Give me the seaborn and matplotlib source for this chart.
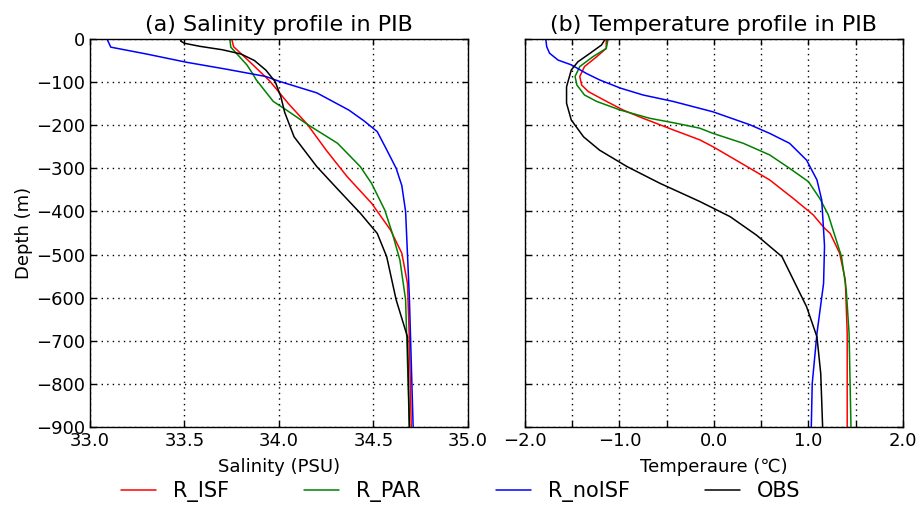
import pandas as pd
import seaborn as sns
import matplotlib.pyplot as plt
import numpy as np

# Runs and their colours
runs = ["R_ISF", "R_PAR", "R_noISF", "OBS"]
colors = ["red", "green", "blue", "black"]

# Salinity profiles (PSU) vs depth (m)
sal_isf = [33.75, 33.76, 33.85, 33.95, 34.05, 34.15, 34.25, 34.36, 34.49, 34.59, 34.65, 34.68, 34.69, 34.70]
dep_sal_isf = [0, -18, -55, -97, -150, -198, -258, -319, -381, -443, -497, -567, -700, -900]

sal_par = [33.74, 33.745, 33.83, 33.86, 33.88, 33.97, 34.04, 34.15, 34.31, 34.43, 34.49, 34.56, 34.60, 34.64, 34.67, 34.68, 34.69]
dep_sal_par = [0, -19, -60, -80, -95, -145, -165, -198, -242, -296, -335, -397, -451, -513, -605, -750, -900]

sal_noisf = [33.09, 33.11, 33.30, 33.51, 33.72, 33.93, 34.00, 34.20, 34.37, 34.45, 34.52, 34.57, 34.62, 34.65, 34.67, 34.68, 34.69, 34.70, 34.71]
dep_sal_noisf = [0, -19, -35, -54, -70, -87, -98, -125, -165, -190, -215, -257, -300, -340, -400, -500, -600, -750, -900]

sal_obs = [33.485, 33.48, 33.50, 33.58, 33.70, 33.80, 33.87, 33.93, 33.98, 34.01, 34.03, 34.08, 34.20, 34.31, 34.43, 34.52, 34.57, 34.62, 34.68, 34.69]
dep_sal_obs = [0, -5, -10, -17, -25, -35, -50, -72, -99, -134, -170, -227, -296, -348, -404, -451, -505, -605, -691, -900]

# Temperature profiles (degC) vs depth (m)
tmp_isf = [-1.14, -1.14, -1.24, -1.37, -1.42, -1.40, -1.33, -1.17, -0.96, -0.75, -0.43, -0.15, -0.01, 0.35, 0.59, 0.84,
           1.05, 1.17, 1.23, 1.33, 1.39, 1.41, 1.41]
dep_tmp_isf = [0, -22, -41, -64, -87, -107, -122, -141, -165, -184, -211, -234, -250, -296, -327, -370,
               -408, -439, -451, -497, -559, -683, -900]

tmp_par = [-1.12, -1.14, -1.28, -1.42, -1.47, -1.45, -1.37, -1.24, -0.99, -0.68, -0.39, -0.15, -0.01, 0.31, 0.59, 0.80,
           1.00, 1.12, 1.21, 1.26, 1.35, 1.40, 1.43, 1.45]
dep_tmp_par = [0, -22, -41, -64, -87, -107, -130, -145, -165, -184, -196, -207, -219, -242, -269, -300,
               -331, -370, -408, -443, -505, -582, -683, -900]

tmp_noisf = [-1.78, -1.77, -1.74, -1.65, -1.51, -1.35, -1.21, -0.99, -0.75, -0.43, -0.15, -0.01, 0.38, 0.59, 0.80, 0.98,
             1.09, 1.14, 1.16, 1.17, 1.16, 1.09, 1.04, 1.03]
dep_tmp_noisf = [0, -18, -33, -49, -60, -80, -95, -114, -130, -145, -161, -169, -199, -219, -242, -281,
                 -327, -373, -443, -480, -567, -683, -799, -900]

tmp_obs = [-1.15, -1.19, -1.31, -1.44, -1.51, -1.56, -1.56, -1.51, -1.38, -1.21, -0.92, -0.57, -0.15, 0.17, 0.45, 0.72,
           0.98, 1.09, 1.13, 1.15]
dep_tmp_obs = [0, -14, -33, -53, -72, -111, -149, -188, -227, -258, -296, -335, -377, -412, -455, -505,
               -621, -691, -776, -900]

sal_vals = [sal_isf, sal_par, sal_noisf, sal_obs]
sal_deps = [dep_sal_isf, dep_sal_par, dep_sal_noisf, dep_sal_obs]
tmp_vals = [tmp_isf, tmp_par, tmp_noisf, tmp_obs]
tmp_deps = [dep_tmp_isf, dep_tmp_par, dep_tmp_noisf, dep_tmp_obs]


def long_frame(vals, deps):
    parts = []
    for run, v, d in zip(runs, vals, deps):
        parts.append(pd.DataFrame({"value": v, "depth": d, "run": run}))
    return pd.concat(parts, ignore_index=True)


df_sal = long_frame(sal_vals, sal_deps)
df_tmp = long_frame(tmp_vals, tmp_deps)

sns.set_style("white")
plt.rcParams["font.family"] = ["DejaVu Sans"]
plt.rcParams.update({
    "xtick.direction": "in", "ytick.direction": "in",
    "xtick.top": True, "ytick.right": True,
    "xtick.bottom": True, "ytick.left": True,
    "xtick.major.size": 4, "ytick.major.size": 4,
    "axes.edgecolor": "black", "axes.linewidth": 1.0,
    "xtick.color": "black", "ytick.color": "black",
    "text.color": "black", "axes.labelcolor": "black",
    "xtick.labelcolor": "black", "ytick.labelcolor": "black",
})

fig = plt.figure(figsize=(9.21, 5.16), dpi=100)
ax1 = fig.add_axes([0.0977, 0.1725, 0.4104, 0.752])
ax2 = fig.add_axes([0.570, 0.1725, 0.4104, 0.752])

pal = dict(zip(runs, colors))
for ax, df in [(ax1, df_sal), (ax2, df_tmp)]:
    sns.lineplot(data=df, x="value", y="depth", hue="run", hue_order=runs, palette=pal,
                 sort=False, estimator=None, linewidth=1.1, legend=False, ax=ax)
    ax.set_ylim(-900, 0)
    ax.set_yticks(np.arange(-900, 1, 100))
    ax.grid(True, linestyle=(0, (1, 3)), color="black", linewidth=1.0)
    ax.tick_params(labelsize=13, width=1)
    for s in ax.spines.values():
        s.set_visible(True)
        s.set_color("black")

ax1.set_xlim(33.0, 35.0)
ax1.set_xticks(np.arange(33.0, 35.01, 0.5))
ax1.set_xticklabels(["33.0", "33.5", "34.0", "34.5", "35.0"])
ax1.set_xlabel("Salinity (PSU)", fontsize=13, labelpad=6)
ax1.set_ylabel("Depth (m)", fontsize=13, labelpad=2)
ax1.set_title("(a) Salinity profile in PIB", fontsize=16, pad=6)

ax2.set_xlim(-2.0, 2.0)
ax2.set_xticks(np.arange(-2.0, 2.01, 0.5))
ax2.set_xticklabels(["\u22122.0", "", "\u22121.0", "", "0.0", "", "1.0", "", "2.0"])
ax2.set_yticklabels([])
ax2.set_xlabel("Temperaure (\u2103)", fontsize=13, labelpad=6)
ax2.set_ylabel("")
ax2.set_title("(b) Temperature profile in PIB", fontsize=16, pad=6)

handles = ax1.get_lines()[:4]
fig.legend(handles, runs, loc="center", bbox_to_anchor=(0.5, 0.047), ncol=4, frameon=False,
           fontsize=15, handlelength=1.7, columnspacing=3.6)

fig.savefig("out.png", dpi=100)
